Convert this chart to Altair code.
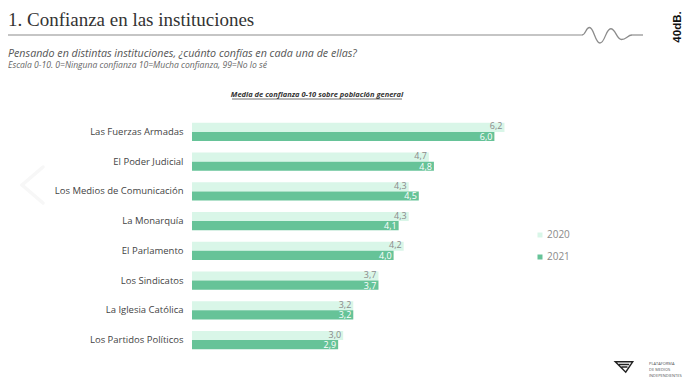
import altair as alt
import pandas as pd

institutions = ["Las Fuerzas Armadas", "El Poder Judicial", "Los Medios de Comunicación",
                "La Monarquía", "El Parlamento", "Los Sindicatos", "La Iglesia Católica",
                "Los Partidos Políticos"]
years = ["2020", "2021"]
v2020 = [6.2, 4.7, 4.3, 4.3, 4.2, 3.7, 3.2, 3.0]
v2021 = [6.0, 4.8, 4.5, 4.1, 4.0, 3.7, 3.2, 2.9]
colors = ["#d9f6e8", "#66c398"]

rows = []
for i, inst in enumerate(institutions):
    for y, v in zip(years, [v2020[i], v2021[i]]):
        rows.append({"inst": inst, "year": y, "value": v,
                     "label": f"{v:.1f}".replace(".", ",")})
df = pd.DataFrame(rows)

FONT = "Open Sans"
one = pd.DataFrame({"k": [0]})

y_enc = alt.Y("inst:N", sort=institutions, title=None,
              scale=alt.Scale(paddingInner=0.394, paddingOuter=0.197),
              axis=alt.Axis(ticks=False, domain=False, labelPadding=9, labelFontSize=9.5,
                            labelColor="#444444", labelFont=FONT, grid=False))
yoff = alt.YOffset("year:N", sort=years)
x_enc = alt.X("value:Q", scale=alt.Scale(domain=[0, 7]), axis=None)

bars = alt.Chart(df).mark_bar().encode(
    x=x_enc, y=y_enc, yOffset=yoff,
    color=alt.Color("year:N", scale=alt.Scale(domain=years, range=colors),
                    legend=alt.Legend(title=None, orient="none", legendX=343, legendY=113,
                                      symbolType="square", symbolSize=25, labelFontSize=10,
                                      labelColor="#8a8a8a", labelFont=FONT, rowPadding=12,
                                      labelOffset=2, symbolStrokeWidth=0)),
)

labels20 = alt.Chart(df).transform_filter(alt.datum.year == "2020").mark_text(
    align="right", baseline="middle", dx=-2, dy=-1, fontSize=9, font=FONT,
    color="#8a8a8a").encode(x=x_enc, y=y_enc, yOffset=yoff, text="label:N")
labels21 = alt.Chart(df).transform_filter(alt.datum.year == "2021").mark_text(
    align="right", baseline="middle", dx=-2, dy=0.5, fontSize=9, font=FONT,
    color="white").encode(x=x_enc, y=y_enc, yOffset=yoff, text="label:N")

def txt(s, x, y, size, color="#333333", style="normal", weight="normal", align="left",
        baseline="middle", font=FONT, angle=0):
    return alt.Chart(pd.DataFrame({"t": [s]})).mark_text(
        align=align, baseline=baseline, fontSize=size, color=color, fontStyle=style,
        fontWeight=weight, font=font, angle=angle).encode(
        text="t:N", x=alt.value(x), y=alt.value(y))

def rule(x, x2, y, y2, color, width, cap="butt"):
    return alt.Chart(one).mark_rule(color=color, strokeWidth=width, strokeCap=cap).encode(
        x=alt.value(x), x2=alt.value(x2), y=alt.value(y), y2=alt.value(y2))

# page coords -> plot coords: x-192, y-117
title = txt("1. Confianza en las instituciones", -184, -91, 19, "#333333",
            baseline="alphabetic", font="Liberation Serif")
hline1 = rule(-184, 390, -82, -82, "#8c8c8c", 1.2)
hline2 = rule(440, 451, -82, -82, "#8c8c8c", 1.2)
wave = alt.Chart(one).mark_point(
    shape="M-1,0 C-0.85,0 -0.85,-0.3 -0.7,-0.3 C-0.52,-0.3 -0.48,0.32 -0.28,0.32 "
          "C-0.08,0.32 -0.05,-0.25 0.15,-0.25 C0.35,-0.25 0.38,0.18 0.58,0.18 C0.78,0.18 0.82,0 1,0",
    size=2500, filled=False, color="#8c8c8c", strokeWidth=1.3, opacity=1).encode(
    x=alt.value(415), y=alt.value(-82))
brand = txt("40dB.", 486.5, -90, 11.5, "#111111", weight="bold", align="center",
            font="Liberation Sans", angle=270)
sub1 = txt("Pensando en distintas instituciones, ¿cuánto confías en cada una de ellas?",
           -184, -63.5, 10.7, "#555555", style="italic")
sub2 = txt("Escala 0-10. 0=Ninguna confianza 10=Mucha confianza, 99=No lo sé",
           -184, -52.5, 8.6, "#666666", style="italic")
ctitle = txt("Media de confianza 0-10 sobre población general", 125, -22, 7.5, "#333333",
             style="italic", weight="bold", align="center")
uline = rule(40, 210, -18, -18, "#333333", 0.7)
chev1 = rule(-149, -170, 50, 68, "#f7f7f7", 3.5, "round")
chev2 = rule(-170, -149, 68, 86, "#f7f7f7", 3.5, "round")
logo = alt.Chart(one).mark_point(
    shape="M-1,-0.6 L1,-0.6 L0.2,0.6 Z M-0.6,-0.3 L0.6,-0.3 M-0.3,0 L0.4,0", size=300,
    filled=False, color="#222222", strokeWidth=1.5, opacity=1).encode(
    x=alt.value(432), y=alt.value(250))
logo1 = txt("PLATAFORMA", 457, 247, 4.0, "#555555")
logo2 = txt("DE MEDIOS", 457, 253, 4.0, "#555555")
logo3 = txt("INDEPENDIENTES", 457, 259, 4.0, "#555555")

chart = alt.layer(
    chev1, chev2, bars, labels20, labels21, title, hline1, hline2, wave, brand, sub1, sub2,
    ctitle, uline, logo, logo1, logo2, logo3
).properties(
    width=352.8, height=238,
    autosize=alt.AutoSizeParams(type="none"),
    padding={"left": 184, "top": 109, "right": 140, "bottom": 25},
    background="white",
).configure_view(stroke=None)

chart.save("out.html", embed_options={"renderer": "svg", "actions": False})
